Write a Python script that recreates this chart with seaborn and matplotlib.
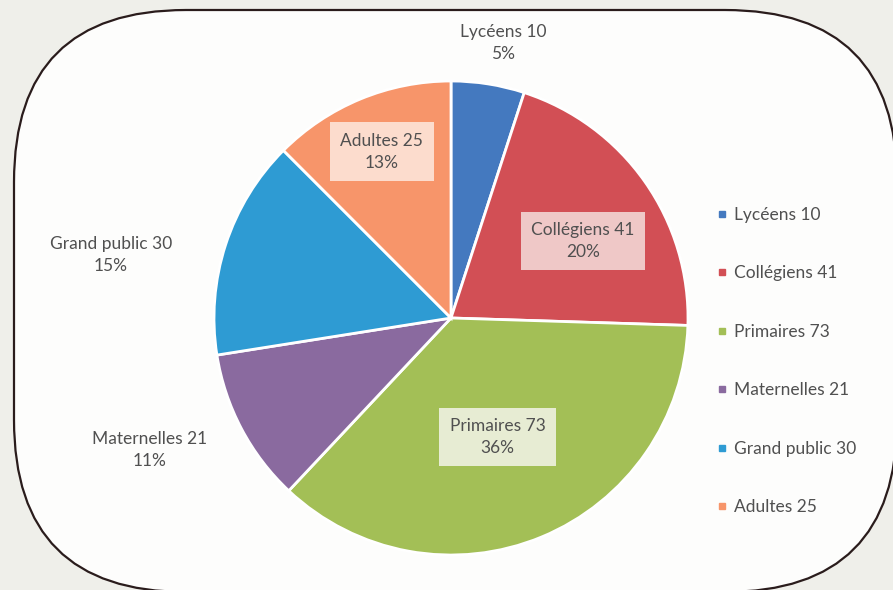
"""
Répartition du public - camembert avec étiquettes et légende
"""

import numpy as np
import matplotlib
matplotlib.use('Agg')
import matplotlib.pyplot as plt
from matplotlib.patches import FancyBboxPatch
from matplotlib.lines import Line2D
import seaborn as sns

# données
categories = ['Lycéens', 'Collégiens', 'Primaires', 'Maternelles', 'Grand public', 'Adultes']
effectifs = [10, 41, 73, 21, 30, 25]
pourcentages = ['5%', '20%', '36%', '11%', '15%', '13%']
couleurs = ['#4479bf', '#d24f55', '#a3bf56', '#8a6a9f', '#2e9bd3', '#f7956a']

sns.set_theme(style='white')
plt.rcParams['font.family'] = ['Lato', 'DejaVu Sans']

W, H = 893, 590
fig = plt.figure(figsize=(W / 100, H / 100), dpi=100, facecolor='#efefea')
ax = fig.add_axes([0, 0, 1, 1])

# cadre arrondi
cadre = FancyBboxPatch((14, -2), 883, 582, boxstyle='round,pad=0,rounding_size=172',
                       facecolor='#fdfdfc', edgecolor='#2a1c1c', linewidth=1.6, zorder=1)
ax.add_patch(cadre)

cx, cy, R = 451, H - 318, 237
pal = sns.color_palette(couleurs)
wedges, _ = ax.pie(effectifs, colors=pal, startangle=90, counterclock=False,
                   center=(cx, cy), radius=R, frame=True,
                   wedgeprops=dict(edgecolor='white', linewidth=2, zorder=2))
ax.set_xlim(0, W)
ax.set_ylim(0, H)
ax.set_aspect('equal')
ax.axis('off')

# étiquettes : distance relative au rayon, décalage d'angle, fond éventuel
dist = [1.18, 0.645, 0.54, 1.39, 1.46, 0.76]
dang = [-1.7, -4.8, -1.1, -4.2, 7.5, 0.1]
fonds = [None, '#f2d3d2', '#eef1df', None, None, '#fde3d6']

for w, cat, n, p, d, da, fc in zip(wedges, categories, effectifs, pourcentages, dist, dang, fonds):
    ang = np.deg2rad((w.theta1 + w.theta2) / 2 + da)
    x = cx + d * R * np.cos(ang)
    y = cy + d * R * np.sin(ang)
    kw = {}
    if fc:
        kw['bbox'] = dict(boxstyle='square,pad=0.6', facecolor=fc, edgecolor='none', alpha=0.92)
    ax.text(x, y, f'{cat} {n}\n{p}', ha='center', va='center', fontsize=12.5,
            color='#505050', linespacing=1.45, zorder=3, **kw)

# légende
handles = [Line2D([], [], marker='s', linestyle='none', markersize=4.5,
                  markerfacecolor=c, markeredgecolor=c) for c in couleurs]
labels = [f'{c} {n}' for c, n in zip(categories, effectifs)]
leg = ax.legend(handles, labels, loc='upper left', bbox_to_anchor=(708, H - 198),
                bbox_transform=ax.transData, frameon=False, fontsize=12.5,
                labelspacing=2.45, handlelength=0.6, handletextpad=0.4, borderpad=0)
for t in leg.get_texts():
    t.set_color('#505050')

plt.savefig('out.png', dpi=100, facecolor=fig.get_facecolor())
